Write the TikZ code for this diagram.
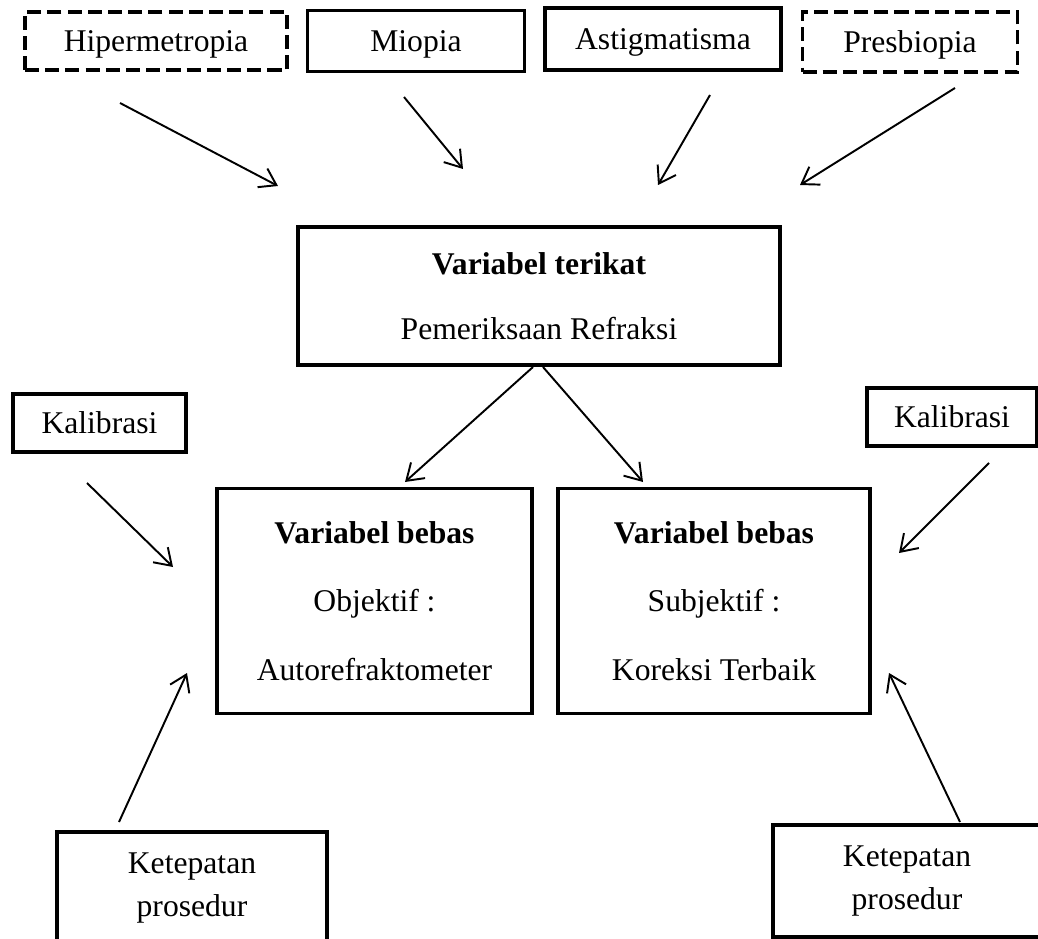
\documentclass[tikz,border=0pt]{standalone}
\usepackage{fontspec}
\setmainfont{Liberation Serif}
\usetikzlibrary{arrows.meta}

\begin{document}
\begin{tikzpicture}[x=0.02cm,y=-0.02cm,>={Straight Barb[length=9pt,width=12pt]},
        oneline/.style={text height=14pt,text depth=2pt},
        dashedbox/.style={dash pattern=on 8pt off 3.5pt}]

        \path[use as bounding box,clip] (0,0) rectangle (1038,939);

        \begin{scope}[every node/.style={rectangle,draw,line width=2.2pt,inner sep=0pt,align=center,font=\fontsize{18}{22}\selectfont}]
            \node[oneline,dashedbox,minimum width=5.24cm,minimum height=1.16cm] (hiper) at (156,41) {Hipermetropia};
            \node[oneline,minimum width=4.34cm,minimum height=1.22cm] (miopia) at (416,41) {Miopia};
            \node[oneline,minimum width=4.72cm,minimum height=1.24cm] (astig) at (663,39) {Astigmatisma};
            \node[oneline,dashedbox,minimum width=4.30cm,minimum height=1.20cm] (presb) at (910,42) {Presbiopia};
            \node[minimum width=9.64cm,minimum height=2.76cm,font=\fontsize{18}{37}\selectfont] (terikat) at (539,296) {\textbf{Variabel terikat}\\Pemeriksaan Refraksi};
            \node[oneline,minimum width=3.46cm,minimum height=1.16cm] (kalib1) at (99.5,423) {Kalibrasi};
            \node[oneline,minimum width=3.40cm,minimum height=1.16cm] (kalib2) at (952,417) {Kalibrasi};
            \node[minimum width=6.30cm,minimum height=4.50cm,font=\fontsize{18}{39}\selectfont] (objektif) at (374.5,601) {\textbf{Variabel bebas}\\Objektif :\\Autorefraktometer};
            \node[minimum width=6.24cm,minimum height=4.50cm,font=\fontsize{18}{39}\selectfont] (subjektif) at (714,601) {\textbf{Variabel bebas}\\Subjektif :\\Koreksi Terbaik};
            \node[minimum width=5.40cm,minimum height=2.24cm,font=\fontsize{18}{25}\selectfont] (ketep1) at (192,888) {Ketepatan\\prosedur};
            \node[minimum width=5.36cm,minimum height=2.24cm,font=\fontsize{18}{25}\selectfont] (ketep2) at (907,881) {Ketepatan\\prosedur};
        \end{scope}

        % ends of the arrows
        \coordinate (hiper-a) at (120,103);   \coordinate (hiper-b) at (278,186);
        \coordinate (miopia-a) at (404,97);   \coordinate (miopia-b) at (463,169);
        \coordinate (astig-a) at (710,95);    \coordinate (astig-b) at (658,185);
        \coordinate (presb-a) at (955,88);    \coordinate (presb-b) at (800,185);
        \coordinate (terikat-a) at (533,367); \coordinate (objektif-b) at (405,482);
        \coordinate (terikat-c) at (543,367); \coordinate (subjektif-b) at (643,482);
        \coordinate (kalib1-a) at (87,483);   \coordinate (kalib1-b) at (173,567);
        \coordinate (kalib2-a) at (989,463);  \coordinate (kalib2-b) at (899,553);
        \coordinate (ketep1-a) at (119,822);  \coordinate (ketep1-b) at (187,673);
        \coordinate (ketep2-a) at (960,822);  \coordinate (ketep2-b) at (889,673);

        \begin{scope}[every edge/.style={draw,line width=1.1pt}]
            \path [->] (hiper-a) edge (hiper-b);
            \path [->] (miopia-a) edge (miopia-b);
            \path [->] (astig-a) edge (astig-b);
            \path [->] (presb-a) edge (presb-b);

            \path [->] (terikat-a) edge (objektif-b);
            \path [->] (terikat-c) edge (subjektif-b);

            \path [->] (kalib1-a) edge (kalib1-b);
            \path [->] (kalib2-a) edge (kalib2-b);
            \path [->] (ketep1-a) edge (ketep1-b);
            \path [->] (ketep2-a) edge (ketep2-b);
        \end{scope}

    \end{tikzpicture}
\end{document}
